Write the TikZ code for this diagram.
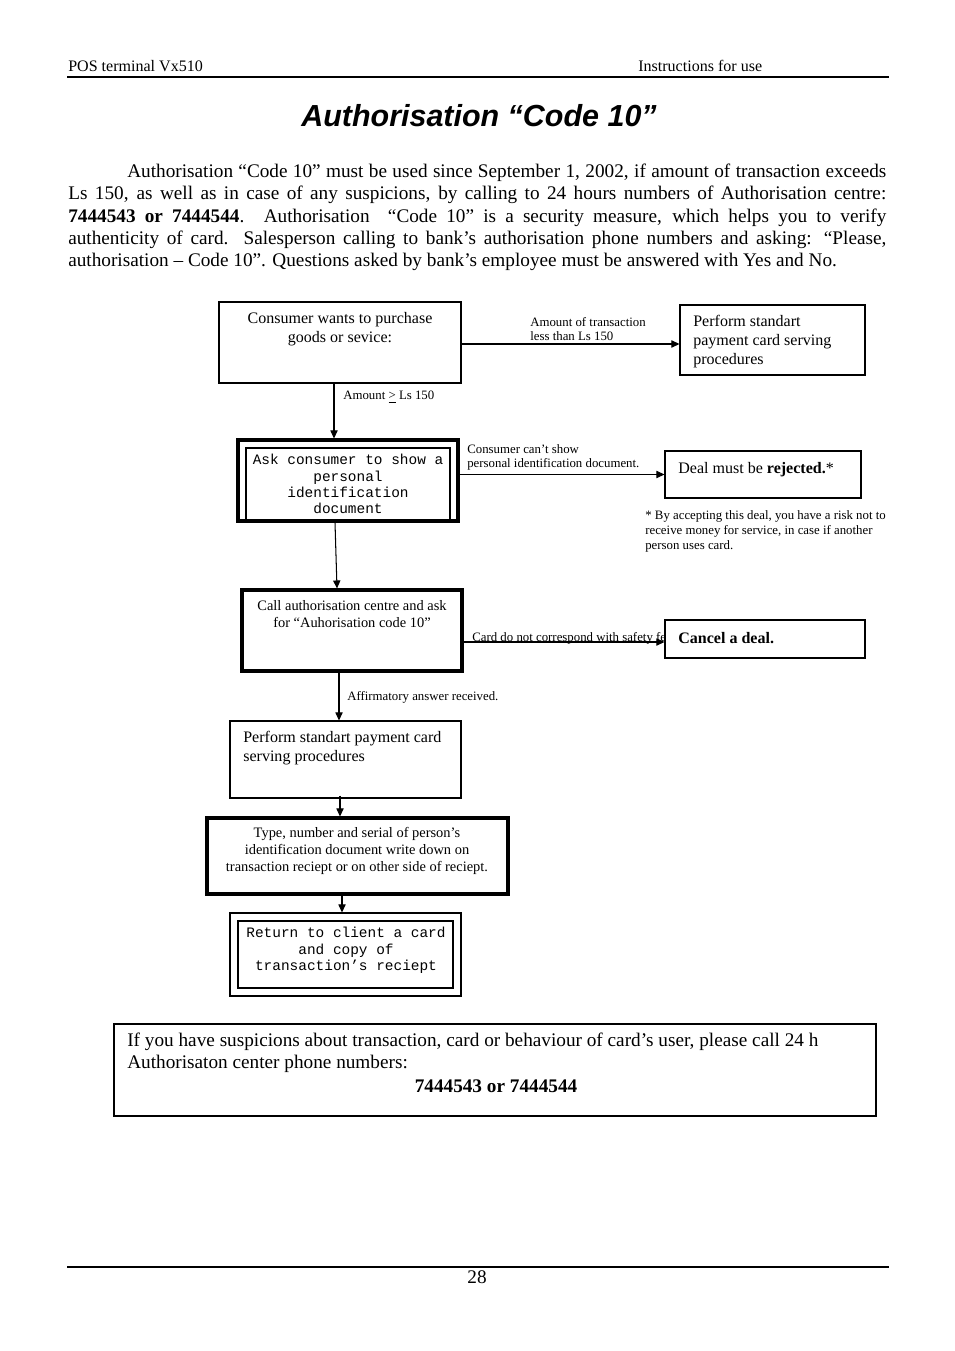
\documentclass[tikz,border=0pt]{standalone}
\usepackage{fontspec}
\setmainfont{Liberation Serif}
\setsansfont{Liberation Sans}
\setmonofont{Liberation Mono}
\usetikzlibrary{calc,arrows.meta,fit}
\begin{document}
\begin{tikzpicture}[x=0.6237pt,y=-0.6237pt,
  thinbox/.style={draw, line width=0.65pt, inner sep=0pt},
  thickbox/.style={draw, line width=1.9pt, inner sep=0pt},
  conn/.style={line width=0.65pt, -{Triangle[length=5pt,width=4.5pt]}},
  txt/.style={inner sep=0pt, font=\fontsize{10}{11.8}\selectfont},
  txtb/.style={inner sep=0pt, font=\fontsize{9}{10.6}\selectfont},
  small/.style={inner sep=0pt, font=\fontsize{8}{8.8}\selectfont},
  mono/.style={inner sep=0pt, font=\ttfamily\fontsize{9}{10.2}\selectfont},
  big/.style={inner sep=0pt, font=\fontsize{12}{13.8}\selectfont}]
\useasboundingbox (0,0) rectangle (954,1351);
\fill[white] (0,0) rectangle (954,1351);

% header
\node[anchor=base west, inner sep=0pt, font=\fontsize{10}{12}\selectfont] (hl) at (68,72) {POS terminal Vx510};
\node[anchor=base west, inner sep=0pt, font=\fontsize{10}{12}\selectfont] (hr) at (638,72) {Instructions for use};
\coordinate (hla) at (67,77);
\coordinate (hlb) at (889,77);
\draw[line width=1.3pt] (hla) -- (hlb);

% title
\node[inner sep=0pt, font=\sffamily\bfseries\itshape\fontsize{19}{22}\selectfont] (title) at (479,116) {Authorisation “Code 10”};

% paragraph
\node[anchor=north west, inner sep=0pt, text width=510.2pt, align=justify, font=\fontsize{12}{13.8}\selectfont] (para) at (68,164)
{\hspace*{36.8pt}Authorisation “Code 10” must be used since September 1, 2002, if amount of transaction exceeds\linebreak
Ls 150, as well as in case of any suspicions, by calling to 24 hours numbers of Authorisation centre:\linebreak
\textbf{7444543 or 7444544}. Authorisation \ “Code 10” is a security measure, which helps you to verify\linebreak
authenticity of card. Salesperson calling to bank’s authorisation phone numbers and asking: “Please,\linebreak
authorisation – Code 10”. Questions asked by bank’s employee must be answered with Yes and No.};

% boxes
\node[thinbox, fit={(219,302) (461,383)}] (b1) {};
\node[txt, anchor=north, align=center] (t1) at (340,312) {Consumer wants to purchase\\goods or sevice:};

\node[thinbox, fit={(680,305) (865,375)}] (b2) {};
\node[txt, anchor=north west, align=left] (t2) at (693,315) {Perform standart\\payment card serving\\procedures};

\node[thickbox, fit={(238,440) (458,521)}] (b3) {};
\coordinate (i3a) at (246,519);
\coordinate (i3b) at (246,448);
\coordinate (i3c) at (450,448);
\coordinate (i3d) at (450,519);
\draw[line width=1.2pt] (i3a) -- (i3b) -- (i3c) -- (i3d);
\node[mono, anchor=north, align=center] (t3) at (348,454) {Ask consumer to show a\\personal\\identification\\document};

\node[thinbox, fit={(665,451) (861,498)}] (b4) {};
\node[txt, anchor=west] (t4) at (678,470) {Deal must be \textbf{rejected.}*};
\node[small, anchor=north west, align=left, font=\fontsize{8}{9.4}\selectfont] (fn) at (645,510) {* By accepting this deal, you have a risk not to\\receive money for service, in case if another\\person uses card.};

\node[thickbox, fit={(242,590) (462,671)}] (b5) {};
\node[txtb, anchor=north, align=center] (t5) at (352,600) {Call authorisation centre and ask\\for “Auhorisation code 10”};

\begin{scope}
\clip (468,625) rectangle (665,650);
\node[small, anchor=west] (l5) at (472,638) {Card do not correspond with safety fe};
\end{scope}
\node[thinbox, fill=white, fit={(665,620) (865,658)}] (b6) {};
\node[txt, anchor=west] (t6) at (678,638) {\textbf{Cancel a deal.}};

\node[thinbox, fit={(230,721) (461,798)}] (b7) {};
\node[txt, anchor=north west, align=left] (t7) at (243,731) {Perform standart payment card\\serving procedures};

\node[thickbox, fit={(207,818) (508,894)}] (b8) {};
\node[txtb, anchor=north, align=center] (t8) at (357,827) {Type, number and serial of person’s\\identification document write down on\\transaction reciept or on other side of reciept.};

\node[thinbox, fit={(230,913) (461,996)}] (b9) {};
\node[draw, line width=1.3pt, inner sep=0pt, fit={(238,921) (453,988)}] (b9i) {};
\node[mono, anchor=north, align=center] (t9) at (346,927) {Return to client a card\\and copy of\\transaction’s reciept};

% bottom box
\node[thinbox, fit={(114,1024) (876,1116)}] (bb) {};
\node[big, anchor=west] (n1) at (127,1042) {If you have suspicions about transaction, card or behaviour of card’s user, please call 24 h};
\node[big, anchor=west] (n2) at (127,1064) {Authorisaton center phone numbers:};
\node[big] (n3) at (496,1086) {\textbf{7444543 or 7444544}};

% connectors
\draw[conn] ($(b1.east)+(0,1.5)$) -- ($(b1.east -| b2.west)+(0,1.5)$);
\node[small, anchor=north west, align=left] (l1) at (530,317) {Amount of transaction\\less than Ls 150};

\draw[conn] ($(b1.south)+(-6,0)$) -- ($(b3.north)+(-14,0)$);
\node[small, anchor=west] (l2) at (343,397) {Amount \underline{>} Ls 150};

\draw[conn] (b4.west -| b3.east) -- (b4.west);
\node[small, anchor=north west, align=left] (l3) at (467,444) {Consumer can’t show\\personal identification document.};

\draw[conn] ($(b3.south)+(-13,0)$) -- ($(b5.north)+(-15,0)$);

\draw[conn] ($(b6.west -| b5.east)+(0,3)$) -- ($(b6.west)+(0,3)$);

\draw[conn] ($(b5.south)+(-13,0)$) -- ($(b7.north)+(-6.5,0)$);
\node[small, anchor=west] (l4) at (347,697) {Affirmatory answer received.};

\draw[conn] ($(b7.south)+(-5.5,-3)$) -- ($(b8.north)+(-17.5,0)$);
\draw[conn] ($(b8.south)+(-15.5,0)$) -- ($(b9.north)+(-3.5,0)$);

% footer
\coordinate (fa) at (67,1267);
\coordinate (fb) at (889,1267);
\draw[line width=1.3pt] (fa) -- (fb);
\node[inner sep=0pt, font=\fontsize{12}{13.8}\selectfont] (pg) at (477,1277) {28};
\end{tikzpicture}
\end{document}
